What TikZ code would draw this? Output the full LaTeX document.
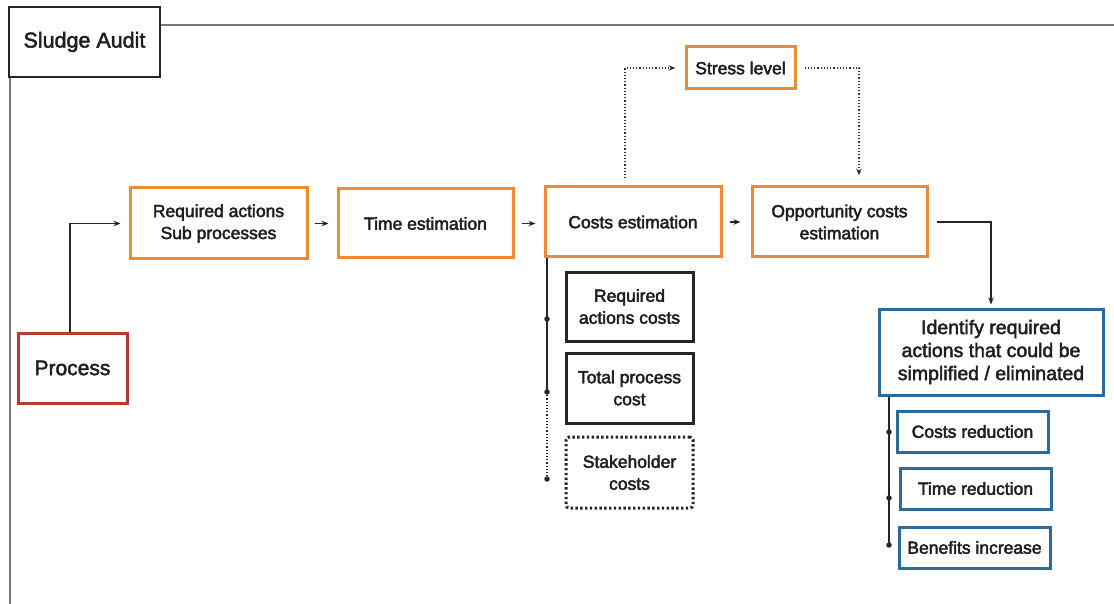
\documentclass[tikz,border=0pt]{standalone}
\usepackage{fontspec}
\setmainfont{Liberation Sans}
\usetikzlibrary{arrows.meta}
\newcommand\heavytxt{\special{pdf:literal direct 2 Tr 0.45 w}}
\definecolor{orangeC}{HTML}{EE8A35}
\definecolor{redC}{HTML}{B83A30}
\definecolor{blueC}{HTML}{2C6A9A}
\definecolor{frameC}{HTML}{7A7A7A}
\definecolor{txtC}{HTML}{1E1E1E}
\tikzset{
  box/.style={draw, line width=3pt, align=center, inner sep=0pt, text=txtC,
    font=\fontsize{17.5}{22}\selectfont\heavytxt},
  obox/.style={box, draw=orangeC},
  kbox/.style={box, draw=black!85},
  bbox/.style={box, draw=blueC},
  arr/.style={line width=1.2pt, -{Stealth[length=7pt,width=5.5pt]}, black!85},
  dotarr/.style={line width=1.2pt, dotted, black!80, -{Stealth[length=7pt,width=5.5pt]}},
  branch/.style={line width=1.2pt, black!85},
  dot/.style={circle, fill=black!85, inner sep=0pt, minimum size=5.5pt},
}
\begin{document}
\begin{tikzpicture}[x=1pt,y=-1pt]
\useasboundingbox (0,0) rectangle (1114,604);
% frame
\draw[frameC, line width=2pt] (160,25) -- (1114,25);
\draw[frameC, line width=2pt] (10,77) -- (10,604);
\node[kbox, line width=2.6pt, minimum width=151pt, minimum height=70pt,
  font=\fontsize{21.5}{26}\selectfont\heavytxt] (title) at (84.5,42) {Sludge Audit};

% main chain
\node[box, draw=redC, minimum width=109pt, minimum height=70pt,
  font=\fontsize{21}{25}\selectfont\heavytxt] (proc) at (72.5,368) {Process};
\node[obox, minimum width=177pt, minimum height=71pt] (req) at (218.5,223.5) {Required actions\\Sub processes};
\node[obox, minimum width=175pt, minimum height=69pt] (time) at (425.5,223.5) {Time estimation};
\node[obox, minimum width=176pt, minimum height=70pt] (cost) at (633,222) {Costs estimation};
\node[obox, minimum width=175pt, minimum height=70pt] (opp) at (839.5,222) {Opportunity costs\\estimation};
\node[obox, minimum width=109pt, minimum height=42pt] (stress) at (740.5,68) {Stress level};

% cost sub boxes
\node[kbox, minimum width=127pt, minimum height=69pt] (rac) at (629.5,306.5) {Required\\actions costs};
\node[kbox, minimum width=127pt, minimum height=70pt] (tpc) at (629.5,388) {Total process\\cost};
\node[kbox, dash pattern=on 2.4pt off 2.4pt, rounded corners=3pt, minimum width=127pt, minimum height=71pt] (shc) at (629.5,472.5) {Stakeholder\\costs};

% identify
\node[bbox, minimum width=224pt, minimum height=86pt,
  font=\fontsize{19.5}{23}\selectfont\heavytxt] (ident) at (991,352) {Identify required\\actions that could be\\simplified / eliminated};
\node[bbox, minimum width=151pt, minimum height=41pt] (cr) at (972.5,431.5) {Costs reduction};
\node[bbox, minimum width=151pt, minimum height=41pt] (tr) at (975.5,488.5) {Time reduction};
\node[bbox, minimum width=151pt, minimum height=41pt] (bi) at (974.5,547.5) {Benefits increase};

% connectors
\draw[arr, shorten >=8pt] ([xshift=-2.5pt]proc.north) |- (req.west);
\draw[arr, shorten <=6pt, shorten >=8pt] (req.east) -- (req.east -| time.west);
\draw[arr, shorten <=7pt, shorten >=8pt] (time.east) -- (time.east -| cost.west);
\draw[arr, shorten <=7pt, shorten >=10pt] (cost.east) -- (cost.east -| opp.west);
\draw[dotarr, shorten >=9pt] ([xshift=-8pt,yshift=7pt]cost.north) |- (stress.west);
\draw[dotarr, shorten <=8pt, shorten >=10pt] (stress.east) -| ([xshift=19.5pt]opp.north);
\draw[arr, shorten <=8pt, shorten >=3pt] (opp.east) -| (ident.north);

% cost branch
\coordinate (c1) at (547,319);
\coordinate (c2) at (547,392);
\coordinate (c3) at (547,479);
\draw[branch] (cost.south -| c1) -- (c2);
\draw[branch, dotted] (c2) -- (c3);
\node[dot] (d1) at (c1) {};
\node[dot] (d2) at (c2) {};
\node[dot] (d3) at (c3) {};

% identify branch
\coordinate (i1) at (889,432);
\coordinate (i2) at (889,498);
\coordinate (i3) at (889,545);
\draw[branch] (ident.south -| i1) -- (i3);
\node[dot] (e1) at (i1) {};
\node[dot] (e2) at (i2) {};
\node[dot] (e3) at (i3) {};
\end{tikzpicture}
\end{document}
